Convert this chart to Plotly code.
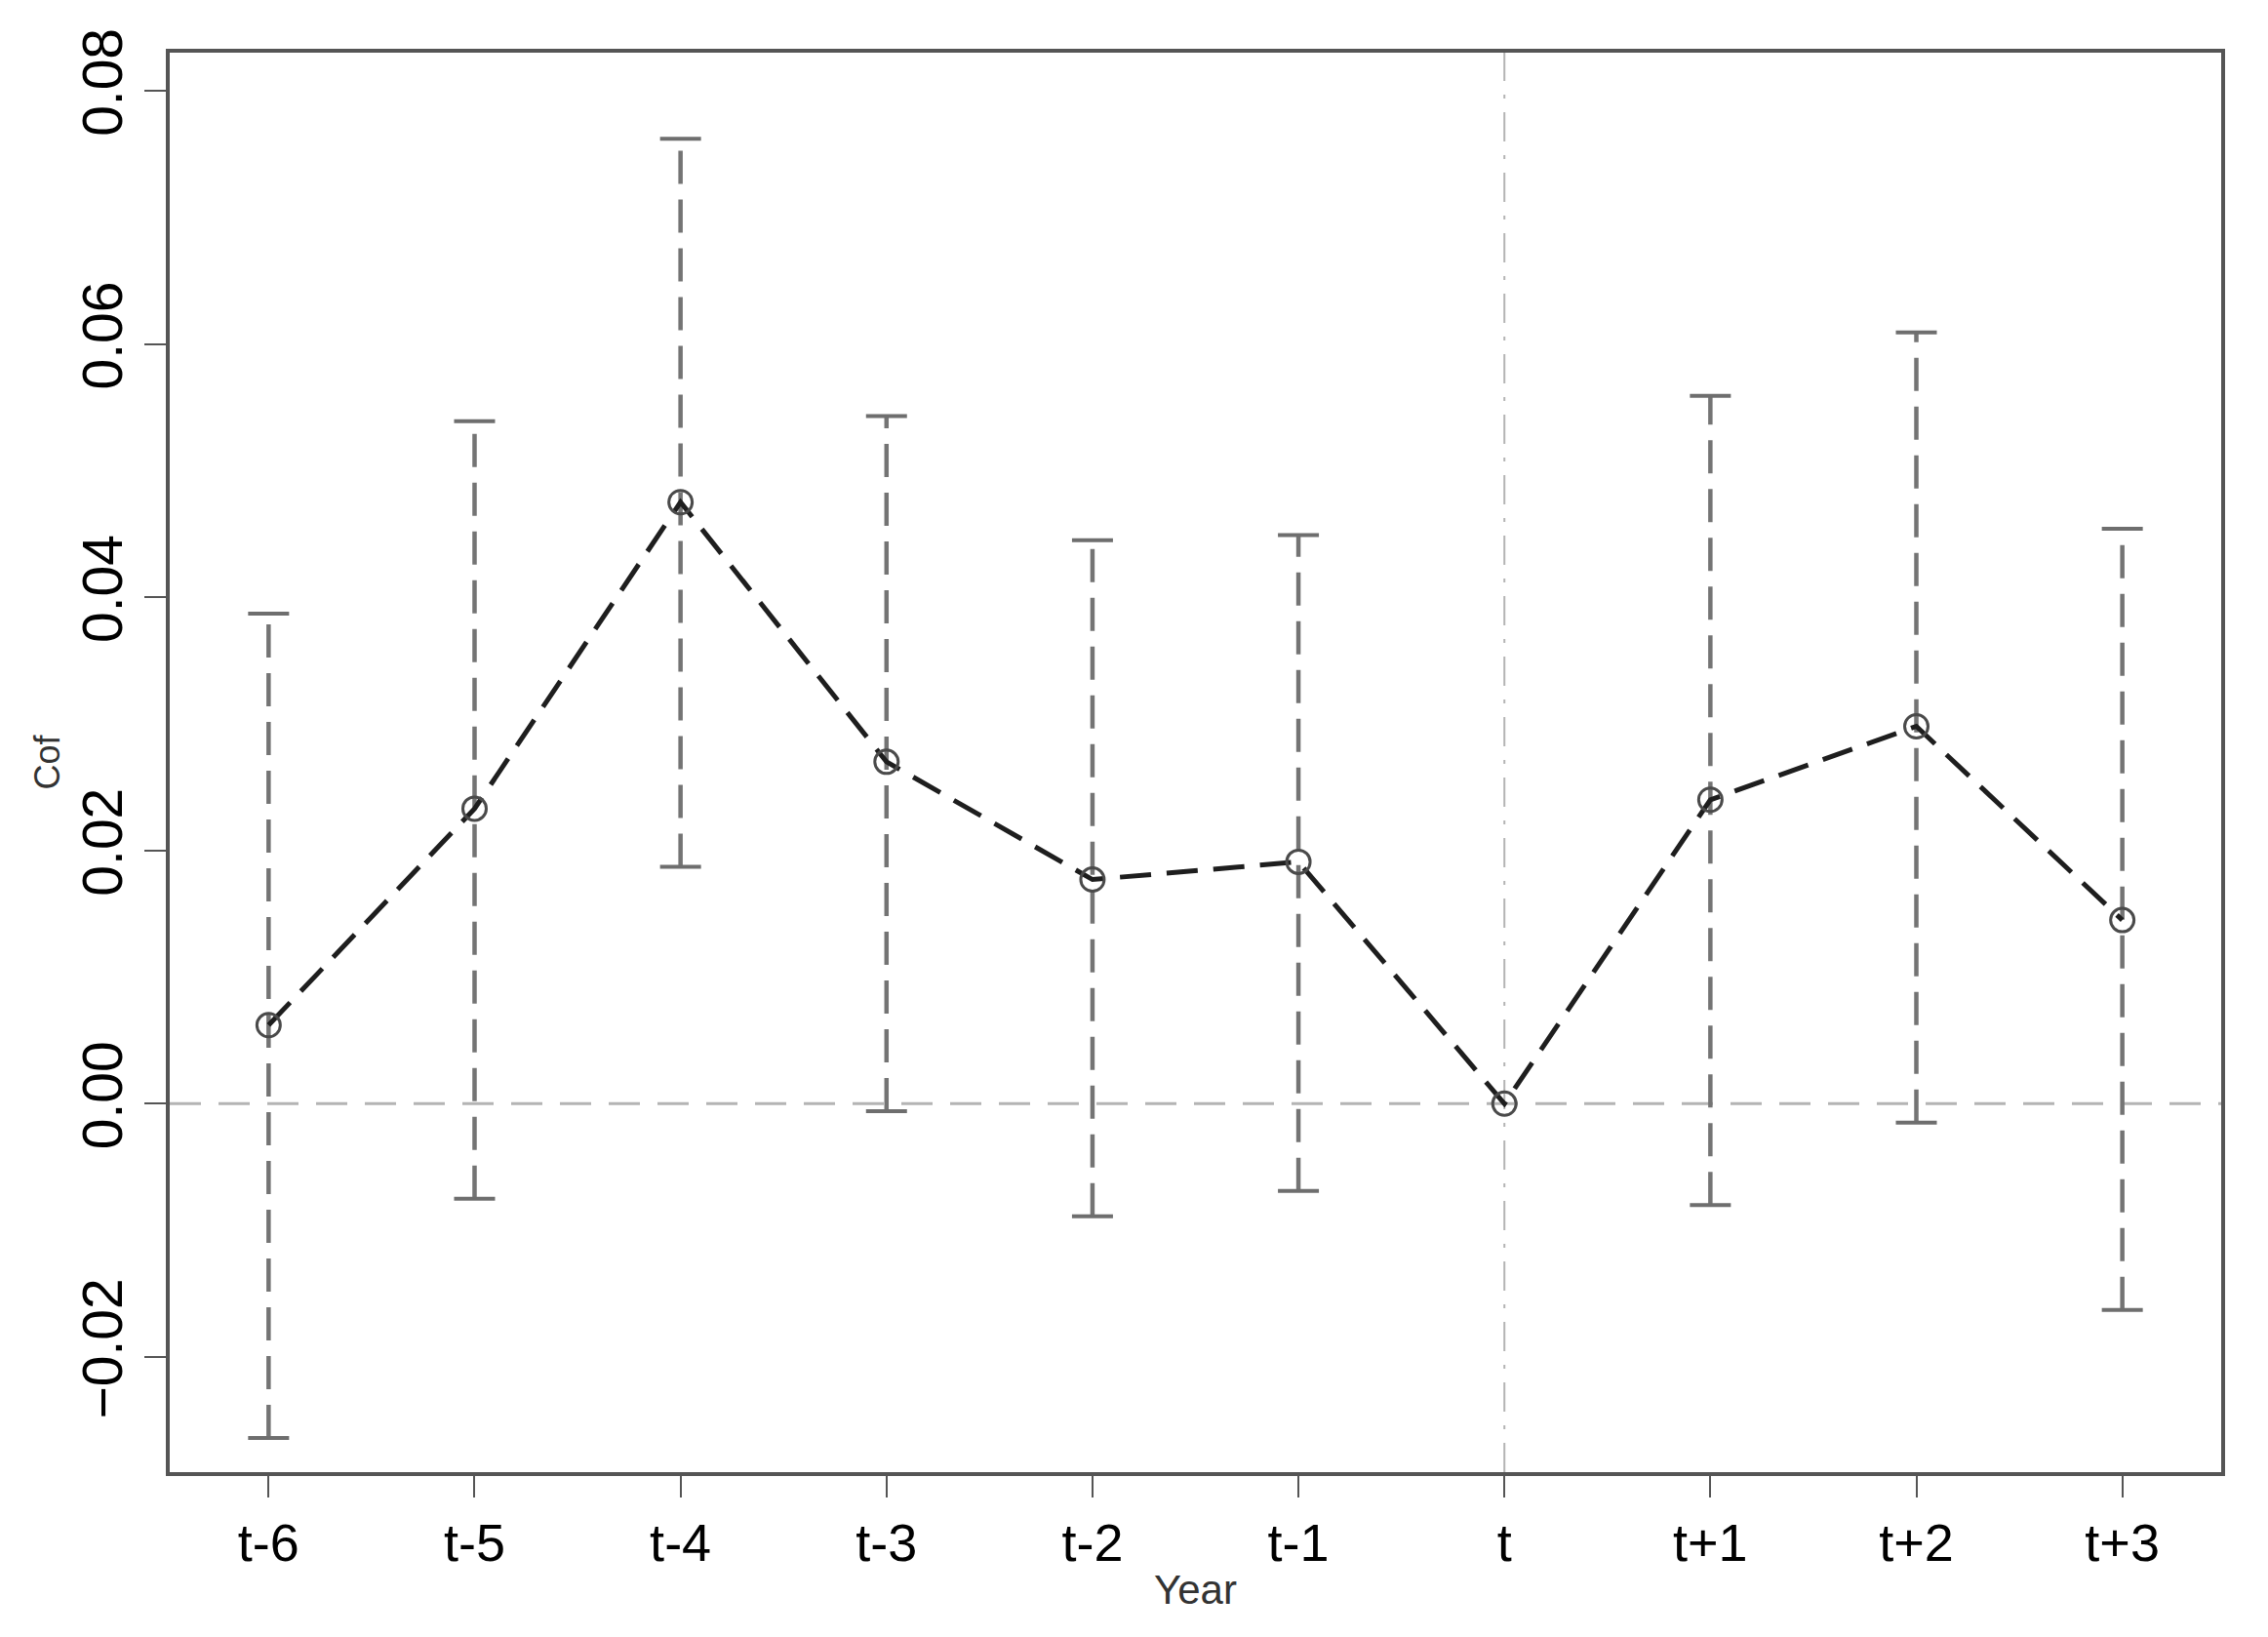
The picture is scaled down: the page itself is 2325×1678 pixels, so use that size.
import plotly.graph_objects as go

categories = ["t-6", "t-5", "t-4", "t-3", "t-2", "t-1", "t", "t+1", "t+2", "t+3"]
coef = [0.0062, 0.0233, 0.0475, 0.0270, 0.0177, 0.0191, 0.0, 0.0240, 0.0298, 0.0145]
upper = [0.0387, 0.0539, 0.0762, 0.0543, 0.0445, 0.0449, None, 0.0559, 0.0609, 0.0454]
lower = [-0.0264, -0.0075, 0.0187, -0.0006, -0.0089, -0.0069, None, -0.0080, -0.0015, -0.0163]
y_ticks = [-0.02, 0.00, 0.02, 0.04, 0.06, 0.08]
y_tick_labels = ["\u22120.02", "0.00", "0.02", "0.04", "0.06", "0.08"]

idx = list(range(len(categories)))
FONT = "Liberation Sans, Arial, sans-serif"

fig = go.Figure()

# reference lines
fig.add_hline(y=0, line=dict(color="#b4b4b4", width=3, dash="32px,18px"), layer="below")
fig.add_vline(x=categories.index("t"), line=dict(color="#b4b4b4", width=2, dash="30px,14px,4px,14px"), layer="below")

# error bar vertical segments (dashed)
ex, ey = [], []
for i, lo, hi in zip(idx, lower, upper):
    if lo is None or hi is None:
        continue
    ex += [i, i, None]
    ey += [lo, hi, None]
fig.add_trace(go.Scatter(x=ex, y=ey, mode="lines",
                         line=dict(color="#747474", width=4.5, dash="34px,16px"),
                         hoverinfo="skip", showlegend=False))

# caps
cx = [i for i, v in zip(idx, upper) if v is not None] + [i for i, v in zip(idx, lower) if v is not None]
cy = [v for v in upper if v is not None] + [v for v in lower if v is not None]
fig.add_trace(go.Scatter(x=cx, y=cy, mode="markers",
                         marker=dict(symbol="line-ew", size=30, line=dict(color="#6e6e6e", width=4)),
                         hoverinfo="skip", showlegend=False))

# coefficient line
fig.add_trace(go.Scatter(x=idx, y=coef, mode="lines",
                         line=dict(color="#1e1e1e", width=5, dash="32px,16px"),
                         showlegend=False))
fig.add_trace(go.Scatter(x=idx, y=coef, mode="markers",
                         marker=dict(symbol="circle-open", size=24, color="#4a4a4a",
                                     line=dict(color="#4a4a4a", width=3)),
                         showlegend=False))

fig.update_layout(
    width=2325, height=1678,
    margin=dict(l=166, r=56, t=46, b=177),
    plot_bgcolor="white", paper_bgcolor="white",
    font=dict(family=FONT, color="#000000"),
    xaxis=dict(
        range=[-0.48, 9.48],
        tickmode="array", tickvals=idx, ticktext=categories,
        ticks="outside", ticklen=22, tickwidth=2, tickcolor="#555555",
        tickfont=dict(size=54, family=FONT, color="#000000"),
        showline=True, linecolor="#555555", linewidth=4, mirror=True,
        showgrid=False, zeroline=False,
        title=dict(text="Year", font=dict(size=42, family=FONT, color="#333333"), standoff=6),
    ),
    yaxis=dict(
        range=[-0.0291, 0.0830],
        tickmode="array", tickvals=y_ticks, ticktext=y_tick_labels,
        tickangle=-90,
        ticks="outside", ticklen=22, tickwidth=2, tickcolor="#555555",
        tickfont=dict(size=57, family=FONT, color="#000000"),
        showline=True, linecolor="#555555", linewidth=4, mirror=True,
        showgrid=False, zeroline=False,
        title=dict(text="Cof", font=dict(size=36, family=FONT, color="#333333"), standoff=2),
    ),
)

fig.write_html("out.html")
